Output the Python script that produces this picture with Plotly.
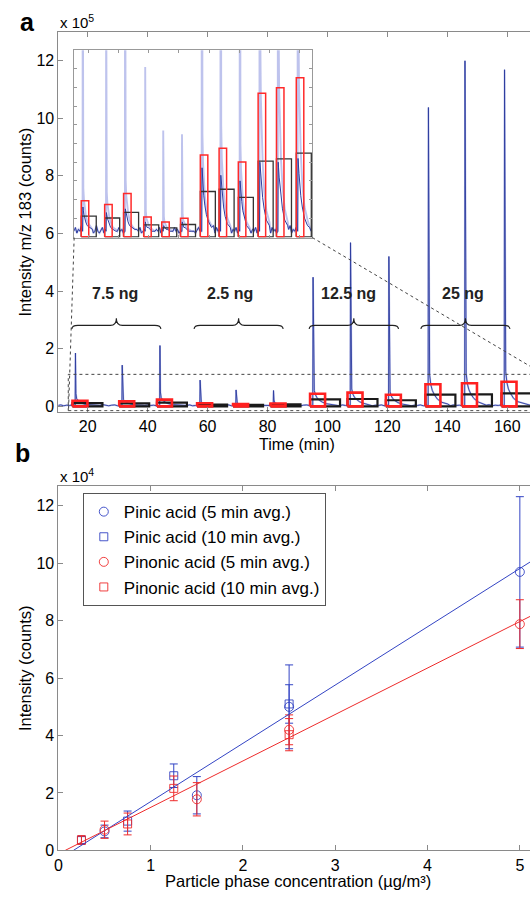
import plotly.graph_objects as go

W, H = 530, 897
FONT = "Liberation Sans, Arial, sans-serif"

# ---------------- panel a : time series (intensity in units of 1e5 counts) ----------
peak_time = [15.9, 31.5, 44.1, 57.5, 69.5, 82.0, 95.2, 107.7, 120.5, 133.7, 145.9, 159.1]
peak_height = [1.85, 1.43, 2.11, 0.91, 0.57, 0.55, 4.48, 5.68, 5.20, 10.37, 11.99, 11.68]
tail_offset = [0.15, 0.4, 0.8, 1.3, 2.0, 3.0, 4.5, 6.5]
# raw signal after each spike
tail_value = [
    [0.45, 0.26, 0.20, 0.16, 0.12, 0.08, 0.06, 0.04],
    [0.40, 0.24, 0.18, 0.14, 0.11, 0.08, 0.05, 0.04],
    [0.50, 0.30, 0.22, 0.17, 0.13, 0.09, 0.06, 0.04],
    [0.25, 0.14, 0.10, 0.08, 0.07, 0.05, 0.04, 0.03],
    [0.20, 0.11, 0.08, 0.07, 0.06, 0.04, 0.04, 0.03],
    [0.22, 0.12, 0.09, 0.08, 0.06, 0.05, 0.04, 0.03],
    [1.00, 0.55, 0.40, 0.30, 0.22, 0.15, 0.09, 0.06],
    [1.10, 0.60, 0.42, 0.32, 0.24, 0.16, 0.10, 0.06],
    [0.90, 0.50, 0.36, 0.27, 0.20, 0.13, 0.08, 0.05],
    [2.20, 1.10, 0.75, 0.55, 0.40, 0.25, 0.14, 0.08],
    [2.30, 1.15, 0.78, 0.58, 0.42, 0.27, 0.15, 0.08],
    [2.40, 1.20, 0.82, 0.60, 0.45, 0.28, 0.16, 0.09],
]
# smoothed signal after each spike (dark line of the inset)
smooth_tail_value = [
    [0.16, 0.14, 0.12, 0.10, 0.08, 0.06, 0.05, 0.04],
    [0.13, 0.12, 0.10, 0.09, 0.07, 0.05, 0.04, 0.03],
    [0.15, 0.14, 0.12, 0.10, 0.08, 0.06, 0.05, 0.04],
    [0.08, 0.07, 0.06, 0.05, 0.05, 0.04, 0.03, 0.03],
    [0.06, 0.06, 0.05, 0.05, 0.04, 0.04, 0.03, 0.03],
    [0.08, 0.07, 0.06, 0.05, 0.05, 0.04, 0.03, 0.03],
    [0.37, 0.33, 0.27, 0.22, 0.17, 0.12, 0.08, 0.05],
    [0.33, 0.30, 0.26, 0.21, 0.16, 0.11, 0.07, 0.05],
    [0.30, 0.27, 0.23, 0.19, 0.14, 0.10, 0.06, 0.04],
    [0.40, 0.37, 0.32, 0.27, 0.21, 0.15, 0.09, 0.06],
    [0.40, 0.37, 0.32, 0.27, 0.21, 0.15, 0.09, 0.06],
    [0.42, 0.39, 0.34, 0.28, 0.22, 0.16, 0.10, 0.06],
]
baseline_start = 10
baseline_value = [
    0.03, 0.05, 0.02, 0.04, 0.03, 0.06, 0.02, 0.04, 0.05, 0.03, 0.02, 0.05, 0.04, 0.02, 0.03, 0.06, 0.03, 0.02, 0.04, 0.05,
    0.02, 0.04, 0.03, 0.05, 0.02, 0.03, 0.06, 0.04, 0.02, 0.03, 0.05, 0.03, 0.04, 0.02, 0.05, 0.03, 0.04, 0.06, 0.02, 0.03,
    0.05, 0.02, 0.04, 0.03, 0.05, 0.02, 0.03, 0.04, 0.06, 0.03, 0.02, 0.04, 0.05, 0.03, 0.02, 0.04, 0.03, 0.05, 0.02, 0.04,
    0.03, 0.05, 0.02, 0.04, 0.06, 0.03, 0.02, 0.05, 0.03, 0.04, 0.02, 0.03, 0.05, 0.04, 0.02, 0.06, 0.03, 0.04, 0.02, 0.05,
    0.03, 0.02, 0.04, 0.05, 0.03, 0.06, 0.02, 0.04, 0.03, 0.05, 0.02, 0.04, 0.03, 0.06, 0.02, 0.05, 0.03, 0.04, 0.02, 0.05,
    0.04, 0.02, 0.05, 0.03, 0.06, 0.02, 0.04, 0.03, 0.05, 0.02, 0.04, 0.06, 0.03, 0.02, 0.05, 0.04, 0.03, 0.06, 0.02, 0.04,
    0.03, 0.05, 0.02, 0.04, 0.06, 0.03, 0.05, 0.02, 0.04, 0.03, 0.06, 0.02, 0.05, 0.03, 0.04, 0.02, 0.05, 0.03, 0.06, 0.04,
    0.02, 0.05, 0.03, 0.04, 0.06, 0.02, 0.04, 0.03, 0.05, 0.02, 0.04, 0.06, 0.03, 0.05, 0.02, 0.04, 0.03, 0.05, 0.03,
]
box_start = [14.9, 30.5, 43.1, 56.5, 68.5, 81.0, 94.2, 106.7, 119.5, 132.7, 144.9, 158.1]
avg_window = [5, 10]
avg5 = [0.194, 0.173, 0.232, 0.106, 0.080, 0.099, 0.439, 0.475, 0.401, 0.769, 0.799, 0.852]
avg10 = [0.111, 0.101, 0.131, 0.064, 0.048, 0.066, 0.243, 0.255, 0.211, 0.406, 0.418, 0.448]
group_label = ["7.5 ng", "2.5 ng", "12.5 ng", "25 ng"]
group_span = [(14.7, 44.4), (55.5, 85.2), (93.9, 123.7), (131.2, 160.9)]
time_ticks = [20, 40, 60, 80, 100, 120, 140, 160]
int_ticks_a = [0, 2, 4, 6, 8, 10, 12]

# ---------------- panel b : calibration (intensity in units of 1e4 counts) ----------
conc5 = [0.5, 1.5, 2.5, 5.0]
conc10 = [0.25, 0.75, 1.25, 2.5]
pinic5 = [0.66, 1.92, 5.00, 9.70]
pinic5_err = [0.22, 0.65, 1.46, 2.62]
pinic10 = [0.36, 1.02, 2.60, 5.10]
pinic10_err = [0.12, 0.35, 0.41, 0.67]
pinonic5 = [0.72, 1.78, 4.20, 7.88]
pinonic5_err = [0.30, 0.58, 0.52, 0.85]
pinonic10 = [0.36, 0.92, 2.16, 4.03]
pinonic10_err = [0.15, 0.38, 0.43, 0.56]
fit_slope = [2.03, 1.618]
fit_x0 = [0.163, 0.074]
conc_ticks = [0, 1, 2, 3, 4, 5]
int_ticks_b = [0, 2, 4, 6, 8, 10, 12]

BLUE = "#3344c4"
RED = "#ee2b2b"
SIG_DARK = "#2c3c9e"
SIG_LIGHT = "rgba(110,122,215,0.45)"
AX = "#8a8a8a"
TICK_SIZE = 16
TITLE_SIZE = 16.5


def px(x):
    return x / W


def py(y):
    return 1 - y / H


# ----- assemble the signal from the read values -----
base_pts = []
for i, v in enumerate(baseline_value):
    t = baseline_start + i
    if all(not (t0 - 0.3 <= t <= t0 + 7.0) for t0 in peak_time):
        base_pts.append((t, v))
full = list(base_pts)
smooth = list(base_pts)
for t0, h, tail, stail in zip(peak_time, peak_height, tail_value, smooth_tail_value):
    pre = (t0 - 0.1, 0.03)
    full += [pre, (t0, h)] + [(t0 + o, v) for o, v in zip(tail_offset, tail)]
    smooth += [pre] + [(t0 + o, v) for o, v in zip(tail_offset, stail)]
full.sort()
smooth.sort()
full_t, full_v = [p[0] for p in full], [p[1] for p in full]
sm_t, sm_v = [p[0] for p in smooth], [p[1] for p in smooth]


def rect_path(starts, width, heights):
    xs, ys = [], []
    for s, h in zip(starts, heights):
        xs += [s, s, s + width, s + width, s, None]
        ys += [0, h, h, 0, 0, None]
    return xs, ys


r5x, r5y = rect_path(box_start, avg_window[0], avg5)
r10x, r10y = rect_path(box_start, avg_window[1], avg10)

fig = go.Figure()

# main panel a
fig.add_trace(go.Scatter(x=full_t, y=full_v, mode="lines", line=dict(color=SIG_LIGHT, width=1.8),
                         xaxis="x", yaxis="y", showlegend=False, hoverinfo="skip"))
fig.add_trace(go.Scatter(x=full_t, y=full_v, mode="lines", line=dict(color=SIG_DARK, width=0.9),
                         xaxis="x", yaxis="y", showlegend=False, hoverinfo="skip"))
fig.add_trace(go.Scatter(x=r10x, y=r10y, mode="lines", line=dict(color="#1a1a1a", width=2.2),
                         xaxis="x", yaxis="y", showlegend=False, hoverinfo="skip"))
fig.add_trace(go.Scatter(x=r5x, y=r5y, mode="lines", line=dict(color="#ff2020", width=2.6),
                         xaxis="x", yaxis="y", showlegend=False, hoverinfo="skip"))

# inset
fig.add_trace(go.Scatter(x=full_t, y=full_v, mode="lines", line=dict(color=SIG_LIGHT, width=1.9),
                         xaxis="x2", yaxis="y2", showlegend=False, hoverinfo="skip"))
fig.add_trace(go.Scatter(x=sm_t, y=sm_v, mode="lines", line=dict(color=SIG_DARK, width=1),
                         xaxis="x2", yaxis="y2", showlegend=False, hoverinfo="skip"))
fig.add_trace(go.Scatter(x=r10x, y=r10y, mode="lines", line=dict(color="#333333", width=1.3),
                         xaxis="x2", yaxis="y2", showlegend=False, hoverinfo="skip"))
fig.add_trace(go.Scatter(x=r5x, y=r5y, mode="lines", line=dict(color="#ff2a2a", width=1.5),
                         xaxis="x2", yaxis="y2", showlegend=False, hoverinfo="skip"))

# panel b
series_b = [
    ("Pinic acid (5 min avg.)", conc5, pinic5, pinic5_err, BLUE, "circle-open", 9),
    ("Pinic acid (10 min avg.)", conc10, pinic10, pinic10_err, BLUE, "square-open", 8),
    ("Pinonic acid (5 min avg.)", conc5, pinonic5, pinonic5_err, RED, "circle-open", 9),
    ("Pinonic acid (10 min avg.)", conc10, pinonic10, pinonic10_err, RED, "square-open", 8),
]
for name, xs, ys, es, col, sym, sz in series_b:
    fig.add_trace(go.Scatter(
        x=xs, y=ys, mode="markers", name=name, xaxis="x3", yaxis="y3",
        marker=dict(symbol=sym, size=sz, color=col, line=dict(color=col, width=0.9)),
        error_y=dict(type="data", array=es, visible=True, color=col, thickness=1, width=4),
    ))
for slope, x0, col in zip(fit_slope, fit_x0, [BLUE, RED]):
    xs = [x0, 5.3]
    fig.add_trace(go.Scatter(x=xs, y=[slope * (x - x0) for x in xs], mode="lines",
                             line=dict(color=col, width=1), xaxis="x3", yaxis="y3",
                             showlegend=False, hoverinfo="skip"))

axis_common = dict(showgrid=False, zeroline=False, showline=True, linecolor=AX, linewidth=1,
                   ticks="inside", tickcolor=AX, ticklen=5, tickwidth=1,
                   tickfont=dict(size=TICK_SIZE, color="black", family=FONT))

shapes = []
# zoom rectangle and connectors
shapes.append(dict(type="rect", xref="x", yref="y", x0=13.5, x1=172, y0=-0.15, y1=1.11,
                   line=dict(color="#444", width=1, dash="dot")))
shapes.append(dict(type="line", xref="paper", yref="paper", x0=px(70.7), y0=py(240),
                   x1=px(65), y1=py(414.5), line=dict(color="#444", width=1, dash="dot")))
shapes.append(dict(type="line", xref="paper", yref="paper", x0=px(310.7), y0=py(240),
                   x1=px(543.2), y1=py(377.7), line=dict(color="#444", width=1, dash="dot")))
# braces
ye, ym, yt, d = 2.68, 2.81, 3.06, 2.0
for t0, t1 in group_span:
    tm = (t0 + t1) / 2
    path = (f"M {t0},{ye} Q {t0},{ym} {t0 + d},{ym} L {tm - d},{ym} Q {tm},{ym} {tm},{yt} "
            f"Q {tm},{ym} {tm + d},{ym} L {t1 - d},{ym} Q {t1},{ym} {t1},{ye}")
    shapes.append(dict(type="path", xref="x", yref="y", path=path, line=dict(color="#222", width=1.1)))

annotations = []
label_x = [29.1, 67.4, 107.1, 145.1]
for lab, lx in zip(group_label, label_x):
    annotations.append(dict(x=lx, y=3.9, xref="x", yref="y", text=f"<b>{lab}</b>", showarrow=False,
                            font=dict(size=16, family=FONT, color="#222")))


def ann(text, x, y, size=15, angle=0, xanchor="center", yanchor="middle", color="black"):
    annotations.append(dict(text=text, x=px(x), y=py(y), xref="paper", yref="paper", showarrow=False,
                            textangle=angle, xanchor=xanchor, yanchor=yanchor,
                            font=dict(size=size, family=FONT, color=color)))


ann("<b>a</b>", 14, 22, size=25, xanchor="left")
ann("<b>b</b>", 9, 458, size=25, xanchor="left")
ann("x 10<sup>5</sup>", 54, 22, size=15, xanchor="left")
ann("x 10<sup>4</sup>", 54, 480, size=15, xanchor="left")
ann("Intensity m/z 183 (counts)", 21, 224, size=TITLE_SIZE, angle=-90)
ann("Intensity (counts)", 21, 675, size=TITLE_SIZE, angle=-90)
ann("Time (min)", 295, 448.5, size=16)
ann("Particle phase concentration (µg/m³)", 296, 889.5, size=TITLE_SIZE)

fig.update_layout(
    width=W, height=H, autosize=False,
    margin=dict(l=0, r=0, t=0, b=0, pad=0),
    paper_bgcolor="white", plot_bgcolor="rgba(0,0,0,0)",
    font=dict(family=FONT, size=15, color="black"),
    xaxis=dict(domain=[px(54.8), 1], range=[10.2, 167.6], anchor="y", tickvals=time_ticks,
               mirror="ticks", ticklabelstandoff=0, **axis_common),
    yaxis=dict(domain=[py(416), py(32)], range=[-0.19, 13.0], anchor="x", tickvals=int_ticks_a,
               **axis_common),
    xaxis2=dict(domain=[px(70.7), px(310.7)], range=[10.2, 168.8], anchor="y2",
                tickvals=time_ticks, showticklabels=False, mirror="ticks",
                **{**axis_common, "ticklen": 3, "linecolor": "#999", "tickcolor": "#999"}),
    yaxis2=dict(domain=[py(240), py(50.7)], range=[-0.004, 1.0], anchor="x2",
                dtick=0.1, tick0=0, showticklabels=False, mirror="ticks",
                **{**axis_common, "ticklen": 3, "linecolor": "#999", "tickcolor": "#999"}),
    xaxis3=dict(domain=[px(54.8), 1], range=[0, 5.11], anchor="y3", tickvals=conc_ticks,
                mirror="ticks", ticklabelstandoff=0, **axis_common),
    yaxis3=dict(domain=[py(859), py(490.7)], range=[0, 12.7], anchor="x3", tickvals=int_ticks_b,
                **axis_common),
    showlegend=True,
    legend=dict(x=px(79.4), y=py(498.1), xanchor="left", yanchor="top", bgcolor="white",
                bordercolor="#555", borderwidth=1, font=dict(size=17, family=FONT, color="black"),
                itemwidth=30, tracegroupgap=0),
    shapes=shapes,
    annotations=annotations,
)

fig.write_html("out.html", config={"displayModeBar": False},
               post_script="document.body.style.margin='0';")
